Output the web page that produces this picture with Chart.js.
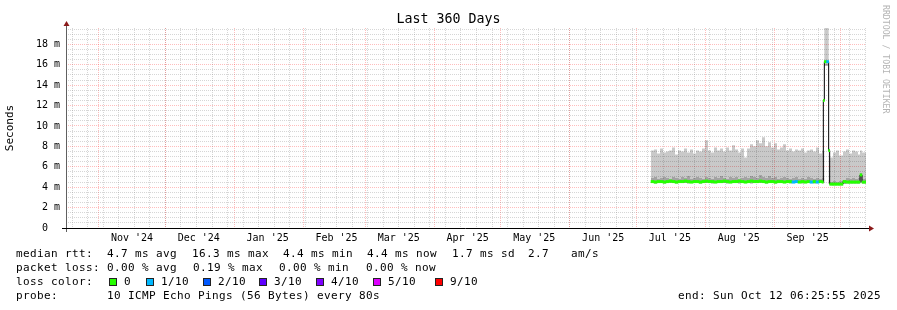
<!DOCTYPE html>
<html>
<head>
<meta charset="utf-8">
<script src="https://cdn.jsdelivr.net/npm/chart.js@4/dist/chart.umd.min.js"></script>
<style>
  body { margin: 0; background: #fff; }
  #wrap { position: relative; width: 897px; height: 310px; }
  .t { position: absolute; white-space: pre; font: 11px 'DejaVu Sans Mono'; letter-spacing: 0.38px; line-height: 14px; color: #000; }
  .sw { position: absolute; width: 6px; height: 6px; border: 1px solid #222; }
  .title { position: absolute; left: 0; width: 897px; top: 11px; text-align: center; font: 13.3px 'DejaVu Sans Mono'; line-height: 16px; color: #000; }
  .side { position: absolute; left: 881px; top: 5px; writing-mode: vertical-rl; font: 8.2px 'DejaVu Sans Mono'; line-height: 10px; color: #b4b4b4; white-space: pre; }
</style>
</head>
<body>
<div id="wrap">
  <canvas id="chart" width="897" height="310"></canvas>
  <div class="title">Last 360 Days</div>
  <div class="side">RRDTOOL / TOBI OETIKER</div>

  <span class="t" style="left:16px;top:247px">median rtt:</span>
  <span class="t" style="left:107px;top:247px">4.7 ms avg</span>
  <span class="t" style="left:192px;top:247px">16.3 ms max</span>
  <span class="t" style="left:283px;top:247px">4.4 ms min</span>
  <span class="t" style="left:367px;top:247px">4.4 ms now</span>
  <span class="t" style="left:452px;top:247px">1.7 ms sd</span>
  <span class="t" style="left:528px;top:247px">2.7</span>
  <span class="t" style="left:571px;top:247px">am/s</span>

  <span class="t" style="left:16px;top:261px">packet loss:</span>
  <span class="t" style="left:107px;top:261px">0.00 % avg</span>
  <span class="t" style="left:193px;top:261px">0.19 % max</span>
  <span class="t" style="left:279px;top:261px">0.00 % min</span>
  <span class="t" style="left:366px;top:261px">0.00 % now</span>

  <span class="t" style="left:16px;top:275px">loss color:</span>
  <div id="lossLegend"></div>

  <span class="t" style="left:16px;top:289px">probe:</span>
  <span class="t" style="left:107px;top:289px">10 ICMP Echo Pings (56 Bytes) every 80s</span>
  <span class="t" style="left:678px;top:289px">end: Sun Oct 12 06:25:55 2025</span>
</div>
<script>
// days since graph start (end - 360 days)
const sampleDay = [
  263.25, 264.6, 265.95, 267.3, 268.65, 270.0, 271.35, 272.7, 274.05, 275.4,
  276.75, 278.1, 279.45, 280.8, 282.15, 283.5, 284.85, 286.2, 287.55, 288.9,
  290.25, 291.6, 292.95, 294.3, 295.65, 297.0, 298.35, 299.7, 301.05, 302.4,
  303.75, 305.1, 306.45, 307.8, 309.15, 310.5, 311.85, 313.2, 314.55, 315.9,
  317.25, 318.6, 319.95, 321.3, 322.65, 324.0, 325.35, 326.7, 328.05, 329.4,
  330.75, 332.1, 333.45, 334.8, 336.15, 337.5, 338.85, 340.2,
  340.8, 341.25, 342.25, 343.2, 343.65, 345.15, 346.5, 347.85, 349.65, 351.0,
  352.35, 353.7, 355.05, 356.4, 357.3, 358.2, 360.0
];

// values in ms
const medianRtt = [
  4.55, 4.5, 4.55, 4.55, 4.5, 4.55, 4.6, 4.55, 4.5, 4.55,
  4.55, 4.6, 4.55, 4.5, 4.55, 4.55, 4.5, 4.55, 4.6, 4.55,
  4.55, 4.5, 4.55, 4.55, 4.6, 4.55, 4.5, 4.55, 4.55, 4.6,
  4.55, 4.5, 4.55, 4.6, 4.55, 4.55, 4.6, 4.55, 4.5, 4.55,
  4.55, 4.5, 4.55, 4.55, 4.5, 4.55, 4.55, 4.5, 4.55, 4.5,
  4.55, 4.5, 4.55, 4.5, 4.55, 4.5, 4.55, 4.5,
  12.5, 16.3, 16.3, 7.6, 4.3, 4.3, 4.3, 4.3, 4.55, 4.5,
  4.5, 4.5, 4.5, 4.5, 5.2, 4.5, 4.5
];

const smokeLow = [
  4.4, 4.35, 4.4, 4.4, 4.35, 4.4, 4.4, 4.4, 4.35, 4.4,
  4.4, 4.4, 4.35, 4.4, 4.4, 4.4, 4.35, 4.4, 4.4, 4.4,
  4.35, 4.4, 4.4, 4.4, 4.4, 4.35, 4.4, 4.4, 4.4, 4.35,
  4.4, 4.4, 4.4, 4.35, 4.4, 4.4, 4.4, 4.4, 4.35, 4.4,
  4.4, 4.35, 4.4, 4.4, 4.4, 4.4, 4.35, 4.4, 4.4, 4.4,
  4.35, 4.4, 4.4, 4.4, 4.35, 4.4, 4.4, 4.4,
  4.4, 15.9, 15.9, 4.3, 4.2, 4.2, 4.2, 4.2, 4.3, 4.35,
  4.35, 4.35, 4.35, 4.35, 4.4, 4.35, 4.35
];

const smokeMid = [
  4.9, 5.0, 4.8, 4.9, 5.0, 4.9, 4.8, 5.0, 4.9, 4.8,
  5.0, 4.9, 5.1, 4.8, 4.9, 5.0, 4.9, 4.8, 5.0, 4.9,
  4.8, 5.0, 4.9, 5.1, 4.9, 4.8, 5.0, 4.9, 5.0, 4.8,
  4.9, 5.0, 4.9, 5.1, 5.0, 4.9, 5.2, 5.0, 4.9, 5.1,
  4.9, 5.0, 4.8, 4.9, 5.0, 4.9, 4.8, 4.9, 5.0, 4.8,
  4.9, 4.8, 5.0, 4.9, 4.8, 4.9, 4.8, 4.9,
  4.9, 16.1, 16.1, 4.7, 4.5, 4.6, 4.5, 4.6, 4.7, 4.9,
  4.8, 4.9, 4.8, 4.9, 5.4, 4.8, 4.8
];

const smokeTop = [
  7.6, 7.7, 7.3, 7.8, 7.4, 7.5, 7.6, 7.9, 7.2, 7.6,
  7.5, 7.8, 7.4, 7.7, 7.3, 7.6, 7.5, 7.8, 8.6, 7.6,
  7.4, 7.9, 7.6, 7.8, 7.5, 7.9, 7.6, 8.1, 7.7, 7.4,
  7.8, 6.9, 7.8, 8.2, 8.0, 8.6, 8.3, 8.9, 8.0, 8.4,
  7.9, 8.3, 7.7, 7.9, 8.2, 7.6, 7.8, 7.5, 7.7, 7.6,
  7.8, 7.4, 7.6, 7.7, 7.5, 7.9, 7.3, 7.6,
  7.5, 19.6, 19.6, 7.8, 6.9, 7.4, 7.6, 7.1, 7.5, 7.7,
  7.3, 7.6, 7.5, 7.2, 7.6, 7.4, 7.4
];

// index into lossColors
const lossIdx = [
  0, 0, 0, 0, 0, 0, 0, 0, 0, 0,
  0, 0, 0, 0, 0, 0, 0, 0, 0, 0,
  0, 0, 0, 0, 0, 0, 0, 0, 0, 0,
  0, 0, 0, 0, 0, 0, 0, 0, 0, 0,
  0, 0, 0, 0, 0, 0, 0, 1, 1, 0,
  0, 0, 0, 1, 0, 1, 0, 0,
  0, 0, 1, 0, 0, 0, 0, 0, 0, 0,
  0, 0, 0, 0, 0, 0, 0
];

const lossLabels = ['0', '1/10', '2/10', '3/10', '4/10', '5/10', '9/10'];
const lossColors = ['#26ff00', '#00b8ff', '#0059ff', '#5e00ff', '#7e00ff', '#dd00ff', '#ff0000'];

const monthStarts = ['2024-11-01', '2024-12-01', '2025-01-01', '2025-02-01', '2025-03-01', '2025-04-01',
  '2025-05-01', '2025-06-01', '2025-07-01', '2025-08-01', '2025-09-01', '2025-10-01'];
const monthLabels = ["Nov '24", "Dec '24", "Jan '25", "Feb '25", "Mar '25", "Apr '25",
  "May '25", "Jun '25", "Jul '25", "Aug '25", "Sep '25"];

const graphStart = Date.UTC(2024, 9, 17, 6, 25, 55);
const graphDays = 360;
const firstSunday = '2024-10-20';

const MAJOR = 'rgba(255,0,0,0.26)';
const MINOR = 'rgba(120,120,120,0.3)';
const FONT = 'DejaVu Sans Mono';

const dayOf = s => (Date.parse(s + 'T00:00:00Z') - graphStart) / 864e5;
const pts = arr => arr.map((v, i) => ({ x: sampleDay[i], y: v }));

// x-axis ticks: weekly minor lines, monthly major lines, labels mid-month
const xTicks = [];
for (let d = dayOf(firstSunday); d <= graphDays; d += 7) xTicks.push({ value: d, kind: 'week' });
monthStarts.forEach(s => xTicks.push({ value: dayOf(s), kind: 'month' }));
monthLabels.forEach((t, i) => xTicks.push({ value: dayOf(monthStarts[i]) + 15, kind: 'label', text: t }));
xTicks.sort((a, b) => a.value - b.value);

// loss legend swatches
const swatchX = [109, 146, 203, 259, 316, 373, 435];
const lossLegend = document.getElementById('lossLegend');
lossLabels.forEach((lab, i) => {
  const b = document.createElement('span');
  b.className = 'sw';
  b.style.left = swatchX[i] + 'px';
  b.style.top = '278px';
  b.style.background = lossColors[i];
  lossLegend.appendChild(b);
  const t = document.createElement('span');
  t.className = 't';
  t.style.left = (swatchX[i] + 15) + 'px';
  t.style.top = '275px';
  t.textContent = lab;
  lossLegend.appendChild(t);
});

const axisArrows = {
  id: 'axisArrows',
  afterDraw(chart) {
    const { ctx, chartArea: a } = chart;
    ctx.save();
    ctx.lineWidth = 1;
    ctx.strokeStyle = '#606060';
    ctx.beginPath();
    ctx.moveTo(a.left + 0.5, a.bottom + 4);
    ctx.lineTo(a.left + 0.5, a.top - 3);
    ctx.stroke();
    ctx.strokeStyle = '#000';
    ctx.beginPath();
    ctx.moveTo(a.left - 4, a.bottom + 0.5);
    ctx.lineTo(a.right + 3, a.bottom + 0.5);
    ctx.stroke();
    ctx.fillStyle = '#8b1a1a';
    ctx.beginPath();
    ctx.moveTo(a.left + 0.5, a.top - 7);
    ctx.lineTo(a.left - 2.5, a.top - 2);
    ctx.lineTo(a.left + 3.5, a.top - 2);
    ctx.fill();
    ctx.beginPath();
    ctx.moveTo(a.right + 8, a.bottom + 0.5);
    ctx.lineTo(a.right + 3, a.bottom - 2.5);
    ctx.lineTo(a.right + 3, a.bottom + 3.5);
    ctx.fill();
    ctx.restore();
  }
};

new Chart(document.getElementById('chart'), {
  type: 'line',
  data: {
    datasets: [
      {
        // loss coloured median
        data: medianRtt.slice(0, -1).map((v, i) => ({ x: (sampleDay[i] + sampleDay[i + 1]) / 2, y: v })),
        showLine: false,
        pointStyle: 'line',
        pointRadius: c => {
          const s = c.chart.scales.x, i = c.dataIndex;
          return (s.getPixelForValue(sampleDay[i + 1]) - s.getPixelForValue(sampleDay[i])) / 2 + 0.3;
        },
        pointBorderWidth: 3,
        pointBorderColor: lossIdx.map(l => lossColors[l])
      },
      {
        data: pts(medianRtt),
        stepped: true,
        borderColor: '#000',
        borderWidth: 1,
        pointRadius: 0
      },
      {
        data: pts(smokeTop),
        stepped: true,
        borderWidth: 0,
        pointRadius: 0,
        backgroundColor: 'rgba(0,0,0,0.21)',
        fill: 3
      },
      {
        data: pts(smokeMid),
        stepped: true,
        borderWidth: 0,
        pointRadius: 0,
        backgroundColor: 'rgba(0,0,0,0.36)',
        fill: 4
      },
      {
        data: pts(smokeLow),
        stepped: true,
        borderWidth: 0,
        pointRadius: 0,
        fill: false
      }
    ]
  },
  options: {
    responsive: false,
    animation: false,
    events: [],
    layout: { padding: { left: 0, right: 31, top: 28, bottom: 62 } },
    plugins: {
      legend: { display: false },
      tooltip: { enabled: false }
    },
    scales: {
      x: {
        type: 'linear',
        min: 0,
        max: graphDays,
        afterBuildTicks: s => { s.ticks = xTicks.map(t => ({ ...t })); },
        afterFit: s => { s.height = 20; },
        grid: {
          drawTicks: false,
          color: c => c.tick && c.tick.kind === 'month' ? MAJOR : (c.tick && c.tick.kind === 'week' ? MINOR : 'rgba(0,0,0,0)')
        },
        border: { display: false, dash: [1, 1] },
        ticks: {
          autoSkip: false,
          maxRotation: 0,
          padding: 4,
          color: '#000',
          font: { family: FONT, size: 10 },
          callback: (v, i, ticks) => ticks[i].text || ''
        }
      },
      y: {
        min: 0,
        max: 19.6,
        afterFit: s => { s.width = 66; },
        grid: {
          drawTicks: false,
          color: c => c.tick.value % 2 === 0 ? MAJOR : MINOR
        },
        border: { display: false, dash: [1, 1] },
        ticks: {
          stepSize: 0.5,
          maxTicksLimit: 100,
          includeBounds: false,
          autoSkip: false,
          padding: 6,
          color: '#000',
          font: { family: FONT, size: 10 },
          callback: v => v % 2 === 0 ? (v === 0 ? '0  ' : v + ' m') : ''
        },
        title: {
          display: true,
          text: 'Seconds',
          color: '#000',
          font: { family: FONT, size: 11 },
          padding: { top: 4, bottom: 0 }
        }
      }
    }
  },
  plugins: [axisArrows]
});
</script>
</body>
</html>
